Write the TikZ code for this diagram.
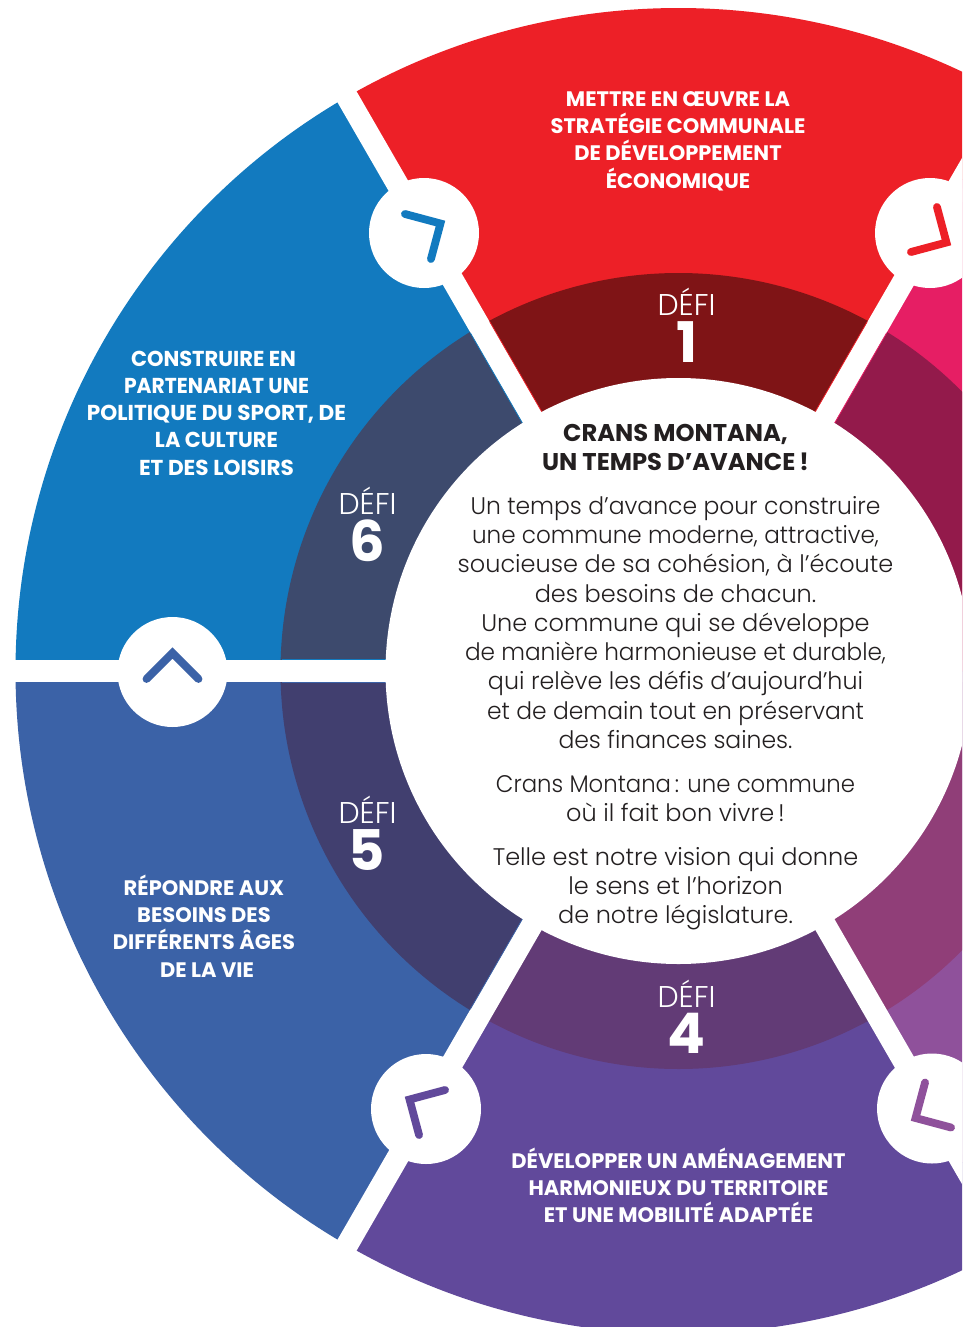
\documentclass[tikz,border=0pt]{standalone}
\usepackage{fontspec}
\setmainfont{Poppins}
\newfontfamily\lightf{Poppins Light}
\newfontfamily\boldf{Poppins Bold}
\definecolor{cred}{HTML}{ED2027}\definecolor{dred}{HTML}{7F1416}
\definecolor{cpink}{HTML}{E61E64}\definecolor{dpink}{HTML}{931A4B}
\definecolor{clil}{HTML}{8F519B}\definecolor{dlil}{HTML}{903E78}
\definecolor{cvio}{HTML}{61499B}\definecolor{dvio}{HTML}{623B76}
\definecolor{cind}{HTML}{3B62A7}\definecolor{dind}{HTML}{413F6F}
\definecolor{cblu}{HTML}{127ABF}\definecolor{dblu}{HTML}{3D4A6D}
\definecolor{ink}{HTML}{231F20}
\newcommand\fitw[2]{\resizebox{#1pt}{\height}{#2}}
\tikzset{
 hub/.style={circle,fill=white,minimum size=110pt,inner sep=0pt},
 chev/.style={line width=7.8pt,line cap=round,miter limit=10},
 title/.style={text=white,align=center,font=\boldf\fontsize{21}{27.2}\selectfont,inner sep=0pt},
 defi/.style={text=white,font=\lightf\fontsize{30}{30}\selectfont,inner sep=0pt},
 num/.style={text=white,font=\boldf\fontsize{56}{56}\selectfont,inner sep=0pt},
 head/.style={text=ink,align=center,font=\boldf\fontsize{24.2}{29}\selectfont,inner sep=0pt},
 body/.style={text=ink,align=center,font=\lightf\fontsize{24}{29.25}\selectfont,inner sep=0pt},
 fringe/.style={line width=0.8pt},
}
\begin{document}
\begin{tikzpicture}[x=1pt,y=1pt]
\path[use as bounding box,clip] (0,0) rectangle (962,-1327);
\fill[white] (0,0) rectangle (962,-1327);
\begin{scope}[shift={(678.5pt,-671pt)}]
 \foreach \a/\c/\d in {60/cred/dred,0/cpink/dpink,-60/clil/dlil,-120/cvio/dvio,180/cind/dind,120/cblu/dblu}{
  \pgfmathsetmacro\e{\a+60}
  \fill[\c] (0,0) -- (\a:663) arc[start angle=\a,end angle=\e,radius=663] -- cycle;
  \fill[\d] (0,0) -- (\a:398) arc[start angle=\a,end angle=\e,radius=398] -- cycle;
 }
 \foreach \a in {0,60,120}{
  \draw[white,line width=22pt] (\a:720) -- (\a+180:720);
 }
 \foreach \a/\o/\c in {120/11.2/cblu,120/-11.2/cred,60/11.2/cred,60/-11.2/cpink,180/11.2/cind,180/-11.2/cblu,240/-11.2/cind}{
  \draw[fringe,\c,rotate=\a] (290,\o) -- (397,\o);
 }
 \fill[white] (0,0) circle[radius=293];
\end{scope}
\begin{scope}[x=1pt,y=-1pt]
 \foreach \r/\x/\y/\c in {0/172.5/672/cind,60/424/233/cblu,120/930/233/cred,240/932/1108.5/clil,300/426/1109/cvio}{
  \node[hub] (hub\r) at (\x,\y) {};
  \draw[chev,\c,shift={(\x,\y)},rotate=-\r] (-26,7) -- (0,-19) -- (26,7);
 }
 \node[title] (t1) at (678,141) {METTRE EN ŒUVRE LA\\STRATÉGIE COMMUNALE\\DE DÉVELOPPEMENT\\ÉCONOMIQUE};
 \node[title,font=\boldf\fontsize{21.6}{27.3}\selectfont] (t6) at (216.5,413) {\fitw{165}{CONSTRUIRE EN}\hspace*{6pt}\\\fitw{185}{PARTENARIAT UNE}\hspace*{6pt}\\POLITIQUE DU SPORT, DE\\\fitw{123}{LA CULTURE}\hspace*{6pt}\\ET DES LOISIRS};
 \node[title] (t5) at (204,926) {RÉPONDRE AUX\\BESOINS DES\\DIFFÉRENTS ÂGES\\\hspace*{6pt}DE LA VIE};
 \node[title] (t4) at (678.5,1185.5) {DÉVELOPPER UN AMÉNAGEMENT\\HARMONIEUX DU TERRITOIRE\\ET UNE MOBILITÉ ADAPTÉE};
 \node[defi] (d1) at (686.5,302) {DÉFI};
 \node[num] (n1) at (687,342) {1};
 \node[defi] (d6) at (367.5,501) {DÉFI};
 \node[num] (n6) at (367,541) {6};
 \node[defi] (d5) at (367.5,810) {DÉFI};
 \node[num] (n5) at (367,850) {5};
 \node[defi] (d4) at (686.5,994) {DÉFI};
 \node[num] (n4) at (686.5,1033) {4};
 \node[head] (h) at (675.5,447) {CRANS MONTANA,\\UN TEMPS D’AVANCE\,!};
 \node[body] (b1) at (675.5,622.5) {\fitw{410}{Un temps d’avance pour construire}\\\fitw{407}{une commune moderne, attractive,}\\soucieuse de sa cohésion, à l’écoute\\des besoins de chacun.\\Une commune qui se développe\\\fitw{421}{de manière harmonieuse et durable,}\\\fitw{375}{qui relève les défis d’aujourd’hui}\\\fitw{377}{et de demain tout en préservant}\\\fitw{234}{des finances saines.}};
 \node[body] (b2) at (675.5,798.5) {\fitw{359}{Crans Montana\,: une commune}\\où il fait bon vivre\,!};
 \node[body] (b3) at (675.5,888.5) {Telle est notre vision qui donne\\le sens et l’horizon\\de notre législature.};
\end{scope}
\end{tikzpicture}
\end{document}
